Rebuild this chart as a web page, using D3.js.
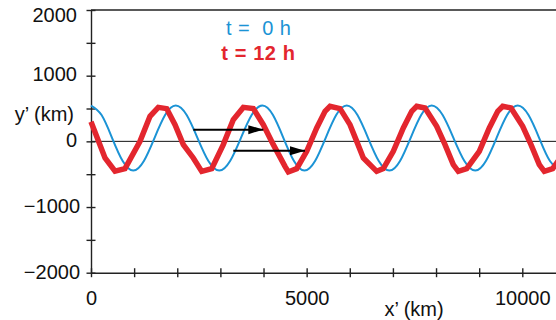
<!DOCTYPE html>
<html>
<head>
<meta charset="utf-8">
<script src="https://cdn.jsdelivr.net/npm/d3@7"></script>
<style>
  html, body { margin: 0; padding: 0; background: #fff; }
  svg { display: block; font-family: "Liberation Sans", Arial, Helvetica, sans-serif; }
  .legend text { white-space: pre; }
</style>
</head>
<body>
<svg id="chart" width="556" height="320"></svg>
<script>
// Streamline displacement y' along x' for two times.
// Blue: t = 0 h (smooth wave), red: t = 12 h (hand-traced polyline).
const waveT0 = [
  [0, 545], [245, 400], [490, 50], [735, -300], [980, -445],
  [1226, -300], [1472, 50], [1718, 400], [1965, 545],
  [2218, 400], [2470, 50], [2722, -300], [2975, -445],
  [3225, -300], [3475, 50], [3725, 400], [3975, 545],
  [4219, 400], [4462, 50], [4706, -300], [4950, -445],
  [5195, -300], [5440, 50], [5685, 400], [5930, 545],
  [6178, 400], [6425, 50], [6672, -300], [6920, -445],
  [7165, -300], [7410, 50], [7655, 400], [7900, 545],
  [8153, 400], [8405, 50], [8658, -300], [8910, -445],
  [9156, -300], [9402, 50], [9648, 400], [9895, 545],
  [10144, 400], [10392, 50], [10641, -300], [10890, -445]
];

const waveT12 = [
  [0, 300], [325, -253], [557, -454], [788, -416], [1136, 0],
  [1368, 381], [1560, 517], [1755, 498], [1948, 254], [2140, -50],
  [2372, -253], [2567, -457], [2799, -416], [3067, -50], [3299, 330],
  [3531, 517], [3763, 498], [3995, 254], [4227, -50], [4498, -381],
  [4575, -466], [4769, -416], [5001, -152], [5233, 204], [5426, 457],
  [5542, 533], [5774, 498], [6005, 254], [6161, 0], [6314, -253],
  [6624, -457], [6777, -416], [7009, -152], [7241, 204], [7436, 457],
  [7552, 533], [7744, 508], [8015, 228], [8208, -50], [8400, -355],
  [8516, -457], [8711, -416], [9003, -152], [9235, 204], [9430, 457],
  [9546, 533], [9738, 508], [10009, 228], [10202, -50], [10394, -355],
  [10510, -457], [10705, -416], [10990, -152]
];

// Propagation arrows: [x start, x end, y]
const arrows = [
  [2372, 3995, 178],
  [3299, 4962, -142]
];

const xTicks = [0, 1000, 2000, 3000, 4000, 5000, 6000, 7000, 8000, 9000, 10000, 11000];
const xTickLabels = [0, 5000, 10000];
const yTicks = [-2000, -1500, -1000, -500, 0, 500, 1000, 1500, 2000];
const yTickLabels = [2000, 1000, 0, -1000, -2000];
const legendLabels = ["t =  0 h", "t = 12 h"];

const blue = "#1b93d5";
const red = "#e3262e";
const ink = "#222";

const svg = d3.select("#chart");
const W = 556;

const x = d3.scaleLinear().domain([0, 11000]).range([91, 91 + 11 * 43.13]);
const y = d3.scaleLinear().domain([-2000, 2000]).range([272.7, 10]);

// Top frame line and zero reference line
svg.append("line")
  .attr("x1", x(0)).attr("x2", W)
  .attr("y1", y(2000)).attr("y2", y(2000))
  .attr("stroke", ink).attr("stroke-width", 1.4);

svg.append("line")
  .attr("x1", x(0)).attr("x2", W)
  .attr("y1", y(0)).attr("y2", y(0))
  .attr("stroke", "#111").attr("stroke-width", 1);

// Axes with ticks crossing the axis line
const yAxis = svg.append("g")
  .attr("transform", `translate(${x(0)},0)`)
  .call(d3.axisLeft(y).tickValues(yTicks).tickFormat("").tickSizeOuter(0));
yAxis.selectAll(".tick line").attr("x1", -4.5).attr("x2", 4.5);

const xAxis = svg.append("g")
  .attr("transform", `translate(0,${y(-2000)})`)
  .call(d3.axisBottom(x).tickValues(xTicks).tickFormat("").tickSizeOuter(0));
xAxis.selectAll(".tick line").attr("y1", -4.5).attr("y2", 4.5);

[yAxis, xAxis].forEach(g => {
  g.select(".domain").attr("stroke", ink).attr("stroke-width", 1.4);
  g.selectAll(".tick line").attr("stroke", ink).attr("stroke-width", 1.4);
});

// Tick labels
const fmt = v => (v < 0 ? "\u2212" + Math.abs(v) : String(v));
svg.append("g").selectAll("text")
  .data(yTickLabels)
  .join("text")
  .attr("x", d => (d < 0 ? 80 : 77))
  .attr("y", d => y(d) + (d === 2000 ? 11.7 : 5.8))
  .attr("text-anchor", "end")
  .attr("font-size", 20)
  .attr("fill", "#111")
  .text(fmt);

svg.append("g").selectAll("text")
  .data(xTickLabels)
  .join("text")
  .attr("x", d => x(d) + 0.5)
  .attr("y", 305.3)
  .attr("text-anchor", "middle")
  .attr("font-size", 20)
  .attr("fill", "#111")
  .text(fmt);

// Axis titles
svg.append("text")
  .attr("x", 74).attr("y", 120.5)
  .attr("text-anchor", "end")
  .attr("font-size", 20).attr("fill", "#111")
  .text("y\u2019 (km)");

svg.append("text")
  .attr("x", 414).attr("y", 315.5)
  .attr("text-anchor", "middle")
  .attr("font-size", 20).attr("fill", "#111")
  .text("x\u2019 (km)");

// Wave curves
svg.append("path")
  .datum(waveT0)
  .attr("d", d3.line().x(d => x(d[0])).y(d => y(d[1])).curve(d3.curveNatural))
  .attr("fill", "none")
  .attr("stroke", blue)
  .attr("stroke-width", 2);

svg.append("path")
  .datum(waveT12)
  .attr("d", d3.line().x(d => x(d[0])).y(d => y(d[1])))
  .attr("fill", "none")
  .attr("stroke", red)
  .attr("stroke-width", 5.5)
  .attr("stroke-linejoin", "miter");

// Arrows
const defs = svg.append("defs");
defs.append("marker")
  .attr("id", "head")
  .attr("viewBox", "0 0 15 10")
  .attr("refX", 15).attr("refY", 5)
  .attr("markerWidth", 15).attr("markerHeight", 10)
  .attr("markerUnits", "userSpaceOnUse")
  .attr("orient", "auto")
  .append("path")
  .attr("d", "M0,0.5 L15,5 L0,9.5 Z")
  .attr("fill", "#000");

svg.append("g").selectAll("line")
  .data(arrows)
  .join("line")
  .attr("x1", d => x(d[0])).attr("x2", d => x(d[1]))
  .attr("y1", d => y(d[2])).attr("y2", d => y(d[2]))
  .attr("stroke", "#000")
  .attr("stroke-width", 2)
  .attr("marker-end", "url(#head)");

// Legend
const legend = svg.append("g").attr("class", "legend").attr("font-size", 20);
legend.append("text")
  .attr("x", 226).attr("y", 35)
  .attr("fill", blue)
  .attr("letter-spacing", 0.45)
  .text(legendLabels[0]);
legend.append("text")
  .attr("x", 221.3).attr("y", 59.5)
  .attr("fill", red)
  .attr("font-weight", "bold")
  .attr("letter-spacing", 0.6)
  .text(legendLabels[1]);
</script>
</body>
</html>
